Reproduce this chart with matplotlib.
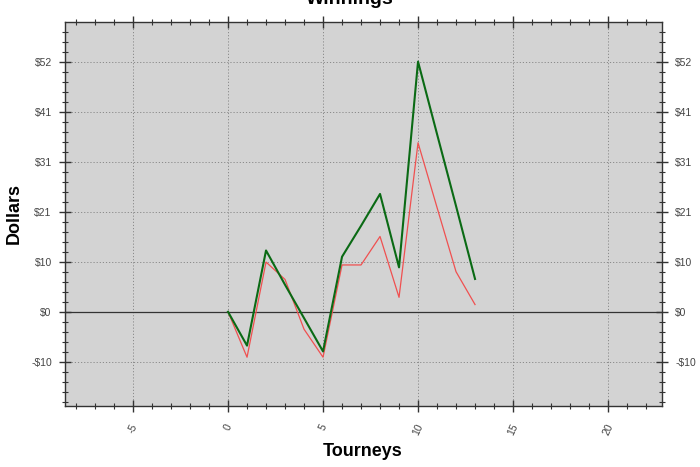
import matplotlib
matplotlib.use("Agg")
import matplotlib.pyplot as plt
from matplotlib.ticker import FixedLocator, MultipleLocator

plt.rcParams['font.family'] = ['Liberation Sans', 'DejaVu Sans']

tourneys = list(range(14))
green_vals = [0, -7.0, 12.7, 5.6, -1.3, -8.2, 11.4, 17.8, 24.4, 9.2, 51.8, 36.8, 21.9, 6.8]
red_vals = [0, -9.4, 10.3, 6.7, -3.6, -9.4, 9.7, 9.7, 15.6, 3.0, 35.0, 21.6, 8.3, 1.5]

y_step = 10.35
y_tick_vals = [y_step * i for i in range(-1, 6)]
y_tick_labels = ['-$10', '$0', '$10', '$21', '$31', '$41', '$52']
x_tick_vals = [-5, 0, 5, 10, 15, 20]
x_tick_labels = ['-5', '0', '5', '10', '15', '20']

fig = plt.figure(figsize=(7, 4.67), dpi=100)
ax = fig.add_axes([65/700, 1 - 406/467, (662-65)/700, (406-22)/467])
ax.set_facecolor('#d3d3d3')

ax.set_xlim(-8.58, 22.84)
ax.set_ylim(-19.5, 60.0)

ax.axhline(0, color='#333333', lw=0.9, zorder=2)
ax.plot(tourneys, red_vals, color='#f05050', lw=0.9, zorder=3)
ax.plot(tourneys, green_vals, color='#0a6a14', lw=1.5, zorder=4)

ax.xaxis.set_major_locator(FixedLocator(x_tick_vals))
ax.set_xticklabels(x_tick_labels, rotation=65, fontsize=7.5, color='#444444')
ax.xaxis.set_minor_locator(MultipleLocator(1))
ax.yaxis.set_major_locator(FixedLocator(y_tick_vals))
ax.set_yticklabels(y_tick_labels, fontsize=7.5, color='#444444')
ax.yaxis.set_minor_locator(MultipleLocator(y_step / 5))

ax.tick_params(which='both', direction='inout', top=True, right=True,
               labelright=True, color='#333333')
ax.tick_params(which='major', length=9, width=1.0, pad=5)
ax.tick_params(which='minor', length=5, width=0.8)
ax.tick_params(axis='x', which='major', pad=7)

for s in ax.spines.values():
    s.set_color('#333333')
    s.set_linewidth(1.0)

ax.grid(True, which='major', color='#8a8a8a', linestyle=(0, (1.2, 2.0)), lw=0.7)
ax.set_axisbelow(True)

fig.text(363/700, 1 - 451/467, 'Tourneys', fontsize=13, fontweight='bold',
         ha='center', va='center')
fig.text(14/700, 1 - 213/467, 'Dollars', fontsize=13, fontweight='bold',
         ha='center', va='center', rotation=90)
fig.text(350/700, 1 - 4/467, 'Winnings', fontsize=14, fontweight='bold',
         ha='center', va='baseline')

fig.savefig('out.png', dpi=100)
